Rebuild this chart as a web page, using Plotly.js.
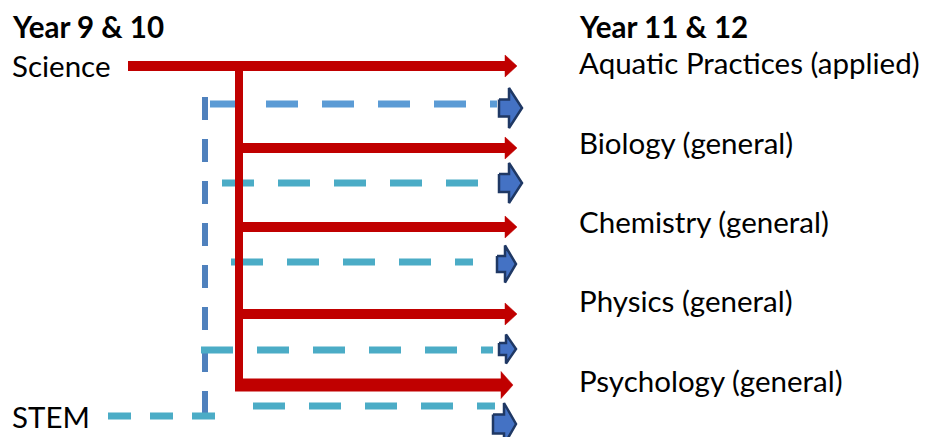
<!DOCTYPE html>
<html>
<head>
<meta charset="utf-8">
<script src="https://cdn.plot.ly/plotly-3.0.1.min.js"></script>
<style>html,body{margin:0;padding:0;background:#fff;}#chart{width:927px;height:437px;}</style>
</head>
<body>
<div id="chart"></div>
<script>
// ---- data ----
const headers = ['Year 9 & 10', 'Year 11 & 12'];
const juniorSubjects = ['Science', 'STEM'];
const seniorSubjects = ['Aquatic Practices (applied)', 'Biology (general)', 'Chemistry (general)', 'Physics (general)', 'Psychology (general)'];
const scienceTargets = [0, 1, 2, 3, 4];
const stemTargets = [0, 1, 2, 3, 4];

// ---- diagram geometry (layout only) ----
const G = {
  leftX: 10, rightX: 577, headerY: 26,
  juniorY: [65, 416],
  seniorY: [62, 142, 221, 300, 380],
  redY: [66, 148, 227, 314, 385],
  redW: [10, 10, 10, 10, 13],
  redStart: 128, trunkX: 239, redEnd: [505, 505, 505, 505, 501], redHead: 12, redHalf: [11, 11, 11, 11, 13.5],
  blueY: [104, 183, 262, 350, 406],
  blueStart: [210, 222, 231, 201, 253],
  blueEnd: [497, 478, 473, 493, 495],
  arrow: [ // x0, head start, tip, centerY, shaft half, head half
    [499, 509, 522, 108, 8.5, 20],
    [499, 509, 522, 183, 9, 20],
    [497, 505, 516, 264, 8, 18.5],
    [499, 506, 516, 349, 6, 14.5],
    [493, 504, 516, 424, 9.5, 21]
  ],
  stemVX: 205, stemVTop: 97, stemVBot: 413, stemStart: 108, stemEnd: 216
};

const RED = '#c00000', BLUE1 = '#5b9bd5', TEAL = '#4bacc6', STEEL = '#4f81bd', AFILL = '#4472c4', ALINE = '#1f3864';
const traces = [];

// STEM dashed trunk (vertical) and stem line
traces.push({x: [G.stemVX, G.stemVX], y: [G.stemVTop, G.stemVBot], mode: 'lines', line: {color: STEEL, width: 6, dash: '23px,19px'}});
traces.push({x: [G.stemStart, G.stemEnd], y: [G.juniorY[1], G.juniorY[1]], mode: 'lines', line: {color: TEAL, width: 7, dash: '23px,19px'}});

// STEM dashed branches
stemTargets.forEach(t => {
  traces.push({x: [G.blueStart[t], G.blueEnd[t]], y: [G.blueY[t], G.blueY[t]], mode: 'lines',
    line: {color: t === 0 ? BLUE1 : TEAL, width: 7, dash: '32px,24px'}});
});

// Science solid red arrows
traces.push({x: [G.trunkX, G.trunkX], y: [G.redY[0] - 5, G.redY[4] + 6], mode: 'lines', line: {color: RED, width: 8}});
scienceTargets.forEach(t => {
  const x0 = t === 0 ? G.redStart : G.trunkX - 4;
  traces.push({x: [x0, G.redEnd[t]], y: [G.redY[t], G.redY[t]], mode: 'lines', line: {color: RED, width: G.redW[t]}});
  const b = G.redEnd[t], tip = b + G.redHead, h = G.redHalf[t], y = G.redY[t];
  traces.push({x: [b, tip, b, b], y: [y - h, y, y + h, y - h], mode: 'lines', fill: 'toself', fillcolor: RED, line: {color: RED, width: 0.5}});
});

// blue block arrows
stemTargets.forEach(t => {
  const [x0, xh, xt, yc, s, h] = G.arrow[t];
  traces.push({
    x: [x0, xh, xh, xt, xh, xh, x0, x0],
    y: [yc - s, yc - s, yc - h, yc, yc + h, yc + s, yc + s, yc - s],
    mode: 'lines', fill: 'toself', fillcolor: AFILL, line: {color: ALINE, width: 2.5}
  });
});

const FONT = 'Lato, "Noto Sans", sans-serif';
const annotations = [];
annotations.push({x: G.leftX, y: G.headerY, text: '<b>' + headers[0] + '</b>'});
annotations.push({x: G.rightX, y: G.headerY, text: '<b>' + headers[1] + '</b>'});
juniorSubjects.forEach((s, i) => annotations.push({x: G.leftX, y: G.juniorY[i], text: s}));
seniorSubjects.forEach((s, i) => annotations.push({x: G.rightX, y: G.seniorY[i], text: s}));
annotations.forEach(a => Object.assign(a, {xref: 'x', yref: 'y', xanchor: 'left', yanchor: 'middle', showarrow: false,
  font: {family: FONT, size: 29.5, color: '#000'}}));

const layout = {
  width: 927, height: 437,
  margin: {l: 0, r: 0, t: 0, b: 0},
  paper_bgcolor: '#fff', plot_bgcolor: '#fff',
  showlegend: false,
  xaxis: {range: [0, 927], visible: false, fixedrange: true},
  yaxis: {range: [437, 0], visible: false, fixedrange: true},
  annotations: annotations
};
traces.forEach(t => { t.hoverinfo = 'skip'; t.showlegend = false; });
Plotly.newPlot('chart', traces, layout, {staticPlot: true, displayModeBar: false});
</script>
</body>
</html>
